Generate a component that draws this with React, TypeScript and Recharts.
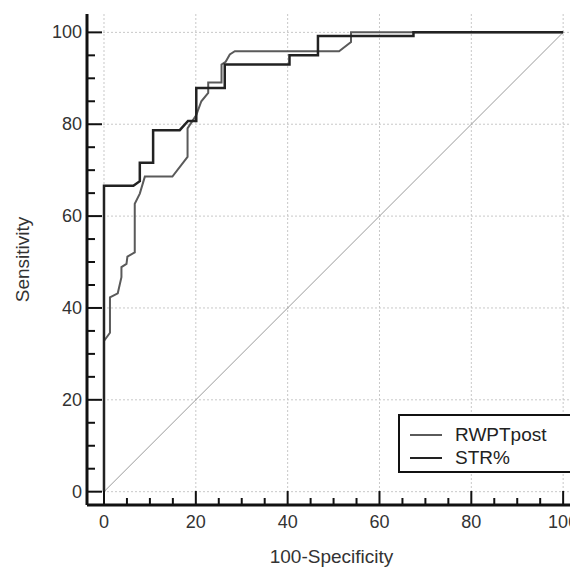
import React from 'react';
import { LineChart, Line, XAxis, YAxis, CartesianGrid, Legend } from 'recharts';

// ROC points (100-Specificity, Sensitivity)
const rwptX = [0, 0, 1.3, 1.3, 3.0, 3.8, 3.8, 4.9, 5.1, 6.7, 6.7, 7.8, 8.9, 14.9, 18.2, 18.2, 20.1, 21.2, 22.7, 22.7, 25.6, 25.6, 26.5, 27.4, 28.5, 51.2, 53.8, 53.8, 100];
const rwptY = [0, 32.8, 34.6, 42.3, 43.2, 46.7, 48.9, 49.6, 51.2, 52.1, 62.7, 64.9, 68.6, 68.6, 72.9, 79.1, 82, 85, 86.8, 89.1, 89.1, 93, 93.6, 95.2, 95.9, 95.9, 97.9, 100, 100];

const strX = [0, 0, 6.4, 7.8, 7.8, 10.7, 10.7, 16.5, 18.3, 20.1, 20.1, 26.3, 26.3, 40.4, 40.4, 46.6, 46.6, 67.4, 67.4, 100];
const strY = [0, 66.6, 66.6, 67.6, 71.6, 71.6, 78.7, 78.7, 80.7, 80.7, 87.9, 87.9, 93, 93, 95, 95, 99.2, 99.2, 100, 100];

const refX = [0, 100];
const refY = [0, 100];

const axisTicks = [0, 5, 10, 15, 20, 25, 30, 35, 40, 45, 50, 55, 60, 65, 70, 75, 80, 85, 90, 95, 100];
const gridTicks = [0, 20, 40, 60, 80, 100];

const toPoints = (xs: number[], ys: number[]) => xs.map((x, i) => ({ x, y: ys[i] }));

const rwptData = toPoints(rwptX, rwptY);
const strData = toPoints(strX, strY);
const refData = toPoints(refX, refY);

const XTick = (props: any) => {
  const { x, y, payload } = props;
  const major = payload.value % 20 === 0;
  return (
    <g>
      <line x1={x} y1={y} x2={x} y2={y - (major ? 14 : 7)} stroke="#111" strokeWidth={2} />
      {major && (
        <text x={x} y={y + 23} textAnchor="middle" fontSize={18} fill="#333">
          {payload.value}
        </text>
      )}
    </g>
  );
};

const YTick = (props: any) => {
  const { x, y, payload } = props;
  const major = payload.value % 20 === 0;
  return (
    <g>
      <line x1={x} y1={y} x2={x + (major ? 15 : 8)} y2={y} stroke="#111" strokeWidth={2} />
      {major && (
        <text x={x - 5} y={y + 6} textAnchor="end" fontSize={18} fill="#333">
          {payload.value}
        </text>
      )}
    </g>
  );
};

const renderLegend = (props: any) => {
  const items = (props.payload || []).filter((p: any) => p.value !== 'diag');
  return (
    <div
      style={{
        border: '2px solid #111',
        background: '#fff',
        width: 174,
        height: 59,
        boxSizing: 'border-box',
        padding: '7px 0 0 10px',
      }}
    >
      {items.map((entry: any) => (
        <div key={entry.value} style={{ display: 'flex', alignItems: 'center', height: 23 }}>
          <svg width={32} height={4}>
            <line x1={0} y1={2} x2={32} y2={2} stroke={entry.color} strokeWidth={2} />
          </svg>
          <span style={{ marginLeft: 13, fontSize: 19, color: '#222', lineHeight: '23px' }}>{entry.value}</span>
        </div>
      ))}
    </div>
  );
};

export default function App() {
  return (
    <div style={{ fontFamily: '"Liberation Sans", Arial, sans-serif' }}>
      <LineChart width={570} height={559} margin={{ top: 6, right: 2, bottom: 0, left: 0 }}>
        <CartesianGrid
          stroke="#c8c8c8"
          strokeDasharray="2 2"
          horizontalValues={gridTicks}
          verticalValues={gridTicks}
        />
        <XAxis
          type="number"
          dataKey="x"
          domain={[-3.7, 102.8]}
          ticks={axisTicks}
          interval={0}
          height={62}
          tickSize={0}
          tickMargin={0}
          tickLine={false}
          tick={<XTick />}
          axisLine={{ stroke: '#111', strokeWidth: 3 }}
          label={{ value: '100-Specificity', position: 'insideBottom', offset: 4, fill: '#333', fontSize: 19 }}
        />
        <YAxis
          type="number"
          dataKey="y"
          domain={[-2.9, 104]}
          ticks={axisTicks}
          interval={0}
          width={79}
          tickSize={0}
          tickMargin={0}
          tickLine={false}
          tick={<YTick />}
          axisLine={{ stroke: '#111', strokeWidth: 3 }}
          label={{ value: 'Sensitivity', angle: -90, position: 'insideLeft', offset: 14, fill: '#333', fontSize: 19, style: { textAnchor: 'middle' } }}
        />
        <Legend
          layout="vertical"
          align="center"
          verticalAlign="middle"
          wrapperStyle={{ left: 390, top: 406, width: 174 }}
          content={renderLegend}
        />
        <Line
          data={refData}
          dataKey="y"
          name="diag"
          legendType="none"
          stroke="#9a9a9a"
          strokeWidth={1}
          dot={false}
          type="linear"
          isAnimationActive={false}
        />
        <Line
          data={rwptData}
          dataKey="y"
          name="RWPTpost"
          stroke="#5a5a5a"
          strokeWidth={2}
          dot={false}
          type="linear"
          isAnimationActive={false}
        />
        <Line
          data={strData}
          dataKey="y"
          name="STR%"
          stroke="#222"
          strokeWidth={2.5}
          dot={false}
          type="linear"
          isAnimationActive={false}
        />
      </LineChart>
    </div>
  );
}
